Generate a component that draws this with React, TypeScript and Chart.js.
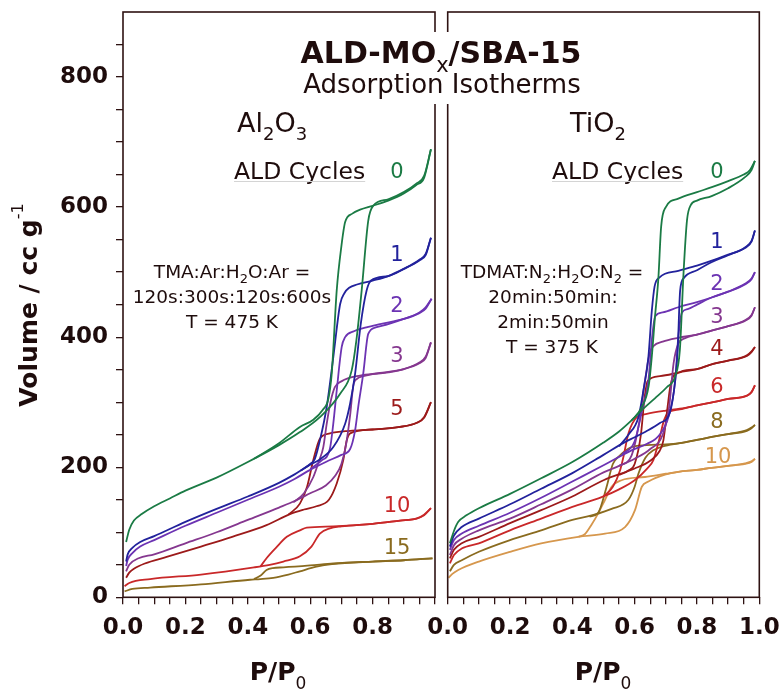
import React, { useEffect, useRef } from 'react';
import { Chart, registerables } from 'chart.js';

Chart.register(...registerables);

type Pt = [number, number];

// ---------- Al2O3 panel (P/P0, Volume cc/g) ----------
const al0Ads: Pt[] = [[0.01,85],[0.02,104],[0.035,118],[0.06,128],[0.1,140],[0.15,152],[0.2,164],[0.3,184],[0.4,208],[0.5,234],[0.567,254],[0.631,277],[0.696,313],[0.733,349],[0.748,395],[0.765,472],[0.786,579],[0.802,602],[0.85,612],[0.9,623],[0.94,636],[0.965,648],[0.987,689]];
const al0Des: Pt[] = [[0.42,213],[0.5,237],[0.567,262],[0.61,273],[0.64,288],[0.658,305],[0.669,344],[0.685,472],[0.7,540],[0.712,577],[0.735,590],[0.76,596],[0.8,602],[0.85,610],[0.9,621],[0.94,634],[0.965,645],[0.987,689]];
const al1Ads: Pt[] = [[0.01,55],[0.015,66],[0.03,76],[0.055,85],[0.1,94],[0.2,116],[0.3,136],[0.4,155],[0.5,176],[0.55,189],[0.6,204],[0.631,212],[0.674,231],[0.712,267],[0.728,298],[0.744,344],[0.762,420],[0.781,472],[0.795,487],[0.85,494],[0.9,505],[0.95,519],[0.97,528],[0.987,553]];
const al1Des: Pt[] = [[0.57,195],[0.6,205],[0.615,213],[0.631,241],[0.653,293],[0.674,369],[0.696,451],[0.71,468],[0.725,476],[0.75,481],[0.8,487],[0.85,494],[0.9,505],[0.95,518],[0.97,526],[0.987,553]];
const al2Ads: Pt[] = [[0.01,48],[0.015,58],[0.03,68],[0.055,78],[0.1,88],[0.2,110],[0.3,130],[0.4,150],[0.5,170],[0.55,182],[0.6,196],[0.65,208],[0.7,219],[0.728,228],[0.744,257],[0.754,293],[0.77,344],[0.786,405],[0.81,415],[0.85,420],[0.9,428],[0.95,438],[0.97,446],[0.989,459]];
const al2Des: Pt[] = [[0.6,197],[0.635,210],[0.663,228],[0.674,267],[0.685,318],[0.701,385],[0.712,400],[0.74,409],[0.78,415],[0.824,420],[0.9,428],[0.95,437],[0.97,444],[0.989,459]];
const al3Ads: Pt[] = [[0.01,40],[0.02,50],[0.05,60],[0.1,66],[0.2,83],[0.3,100],[0.4,119],[0.5,138],[0.55,148],[0.6,160],[0.65,172],[0.68,187],[0.7,205],[0.715,235],[0.728,280],[0.738,325],[0.75,336],[0.77,340],[0.8,343],[0.85,346],[0.9,351],[0.95,361],[0.97,370],[0.987,392]];
const al3Des: Pt[] = [[0.546,146],[0.58,160],[0.61,185],[0.63,212],[0.642,231],[0.653,267],[0.665,300],[0.679,323],[0.7,332],[0.76,341],[0.824,345],[0.9,351],[0.95,360],[0.97,368],[0.987,392]];
const al5Ads: Pt[] = [[0.01,30],[0.02,38],[0.035,44],[0.07,52],[0.14,62],[0.25,78],[0.35,93],[0.46,111],[0.535,128],[0.58,135],[0.62,140],[0.66,150],[0.685,175],[0.706,211],[0.717,241],[0.728,252],[0.8,258],[0.888,262],[0.94,268],[0.965,277],[0.987,300]];
const al5Des: Pt[] = [[0.53,127],[0.567,144],[0.59,170],[0.61,211],[0.631,244],[0.663,252],[0.728,256],[0.8,258],[0.888,262],[0.94,268],[0.965,276],[0.987,300]];
const al10Ads: Pt[] = [[0.005,17],[0.02,22],[0.087,28],[0.25,35],[0.42,46],[0.47,50],[0.514,55],[0.567,63],[0.604,78],[0.631,98],[0.663,106],[0.7,109],[0.8,113],[0.888,118],[0.94,121],[0.965,127],[0.987,137]];
const al10Des: Pt[] = [[0.44,47],[0.46,60],[0.49,76],[0.525,93],[0.567,103],[0.589,107],[0.674,109],[0.8,113],[0.888,118],[0.94,121],[0.965,126],[0.987,137]];
const al15Ads: Pt[] = [[0.005,9],[0.03,13],[0.087,15],[0.25,20],[0.407,27],[0.44,28],[0.482,30],[0.53,35],[0.567,40],[0.62,47],[0.67,51],[0.8,55],[0.9,57],[0.992,60]];
const al15Des: Pt[] = [[0.42,28],[0.44,33],[0.46,42],[0.48,45],[0.514,46],[0.6,49],[0.674,52],[0.8,55],[0.9,57],[0.992,60]];

// ---------- TiO2 panel ----------
const ti0Ads: Pt[] = [[0.007,83],[0.02,102],[0.034,116],[0.06,126],[0.1,137],[0.2,159],[0.3,183],[0.4,208],[0.5,238],[0.55,255],[0.59,272],[0.628,290],[0.665,306],[0.703,323],[0.73,340],[0.745,380],[0.757,500],[0.768,580],[0.78,603],[0.8,610],[0.847,617],[0.9,629],[0.954,646],[0.975,657],[0.986,671]];
const ti0Des: Pt[] = [[0.59,272],[0.62,290],[0.645,325],[0.655,370],[0.665,430],[0.676,490],[0.685,570],[0.7,600],[0.74,613],[0.8,623],[0.85,631],[0.9,640],[0.95,650],[0.97,657],[0.986,671]];
const ti1Ads: Pt[] = [[0.007,78],[0.02,95],[0.045,108],[0.1,121],[0.2,143],[0.3,167],[0.4,191],[0.5,219],[0.57,239],[0.6,246],[0.64,256],[0.681,268],[0.713,284],[0.73,333],[0.738,380],[0.746,472],[0.758,491],[0.8,503],[0.85,516],[0.9,526],[0.954,538],[0.975,548],[0.986,564]];
const ti1Des: Pt[] = [[0.55,232],[0.58,250],[0.612,277],[0.628,318],[0.644,369],[0.655,440],[0.664,478],[0.68,492],[0.74,502],[0.8,510],[0.85,518],[0.9,527],[0.954,537],[0.975,547],[0.986,564]];
const ti2Ads: Pt[] = [[0.007,73],[0.02,88],[0.045,98],[0.1,110],[0.2,130],[0.3,153],[0.4,178],[0.5,203],[0.59,226],[0.64,236],[0.68,250],[0.71,280],[0.73,333],[0.74,400],[0.752,438],[0.77,443],[0.8,450],[0.847,461],[0.9,470],[0.954,482],[0.975,490],[0.986,500]];
const ti2Des: Pt[] = [[0.56,220],[0.6,240],[0.625,290],[0.644,333],[0.656,400],[0.666,432],[0.69,438],[0.74,446],[0.8,454],[0.847,461],[0.9,470],[0.954,481],[0.975,489],[0.986,500]];
const ti3Ads: Pt[] = [[0.007,65],[0.02,80],[0.045,90],[0.1,103],[0.2,121],[0.3,143],[0.4,166],[0.5,192],[0.55,202],[0.6,213],[0.65,228],[0.69,250],[0.71,290],[0.725,360],[0.74,390],[0.76,398],[0.8,404],[0.847,410],[0.9,417],[0.954,426],[0.975,434],[0.986,446]];
const ti3Des: Pt[] = [[0.55,202],[0.59,218],[0.615,270],[0.633,333],[0.648,375],[0.66,386],[0.69,393],[0.74,399],[0.8,404],[0.847,410],[0.9,417],[0.954,425],[0.975,433],[0.986,446]];
const ti4Ads: Pt[] = [[0.007,60],[0.02,73],[0.045,83],[0.1,93],[0.2,114],[0.3,134],[0.4,155],[0.5,180],[0.6,198],[0.65,210],[0.68,225],[0.692,241],[0.705,290],[0.714,323],[0.726,341],[0.8,351],[0.852,359],[0.9,364],[0.96,372],[0.975,378],[0.986,385]];
const ti4Des: Pt[] = [[0.55,188],[0.58,195],[0.6,205],[0.62,250],[0.632,308],[0.642,333],[0.681,340],[0.745,346],[0.8,351],[0.852,359],[0.9,364],[0.96,371],[0.975,377],[0.986,385]];
const ti6Ads: Pt[] = [[0.007,52],[0.02,65],[0.045,75],[0.1,83],[0.2,103],[0.3,121],[0.4,139],[0.494,154],[0.55,166],[0.6,180],[0.64,198],[0.66,211],[0.68,245],[0.694,272],[0.706,283],[0.745,289],[0.8,295],[0.852,300],[0.9,305],[0.96,310],[0.975,316],[0.986,326]];
const ti6Des: Pt[] = [[0.5,155],[0.53,170],[0.553,195],[0.564,216],[0.58,252],[0.607,277],[0.639,282],[0.7,287],[0.745,290],[0.8,295],[0.852,300],[0.9,305],[0.96,310],[0.975,315],[0.986,326]];
const ti8Ads: Pt[] = [[0.007,40],[0.02,50],[0.045,57],[0.1,70],[0.2,88],[0.3,103],[0.4,119],[0.462,126],[0.526,136],[0.58,150],[0.6,170],[0.612,190],[0.635,215],[0.66,226],[0.69,232],[0.745,237],[0.8,242],[0.852,247],[0.9,251],[0.96,257],[0.975,261],[0.986,265]];
const ti8Des: Pt[] = [[0.455,124],[0.483,130],[0.51,170],[0.53,205],[0.548,216],[0.585,230],[0.639,234],[0.7,235],[0.745,237],[0.8,242],[0.852,247],[0.9,251],[0.96,256],[0.975,260],[0.986,265]];
const ti10Ads: Pt[] = [[0.003,30],[0.015,36],[0.034,42],[0.1,55],[0.2,70],[0.3,83],[0.419,93],[0.505,98],[0.569,108],[0.601,134],[0.623,170],[0.644,178],[0.7,189],[0.74,193],[0.8,196],[0.847,199],[0.9,202],[0.954,206],[0.975,209],[0.986,213]];
const ti10Des: Pt[] = [[0.42,93],[0.44,97],[0.462,112],[0.483,129],[0.505,150],[0.526,170],[0.558,180],[0.633,185],[0.7,190],[0.74,193],[0.8,196],[0.847,199],[0.9,202],[0.954,205],[0.975,208],[0.986,213]];

const AL_CYCLES = ['0', '1', '2', '3', '5', '10', '15'];
const TI_CYCLES = ['0', '1', '2', '3', '4', '6', '8', '10'];
const X_TICK_LABELS = ['0.0', '0.2', '0.4', '0.6', '0.8', '1.0'];
const Y_TICK_LABELS = ['0', '200', '400', '600', '800'];

// ---------- styles ----------
const FONT = '"DejaVu Sans", sans-serif';
const AXIS = '#2e1212';
const TEXT = '#1e0c0c';
const C = {
  green: '#1b7b45', blue: '#22229c', purple: '#6c33b3', magenta: '#85378f',
  dark: '#9c1a1a', red: '#c92829', olive: '#8a6b1f', orange: '#d6974d',
};

const AL_COLORS = [C.green, C.blue, C.purple, C.magenta, C.dark, C.red, C.olive];
const TI_COLORS = [C.green, C.blue, C.purple, C.magenta, C.dark, C.red, C.olive, C.orange];
const AL_BRANCHES: Pt[][][] = [[al0Ads, al0Des], [al1Ads, al1Des], [al2Ads, al2Des], [al3Ads, al3Des], [al5Ads, al5Des], [al10Ads, al10Des], [al15Ads, al15Des]];
const TI_BRANCHES: Pt[][][] = [[ti0Ads, ti0Des], [ti1Ads, ti1Des], [ti2Ads, ti2Des], [ti3Ads, ti3Des], [ti4Ads, ti4Des], [ti6Ads, ti6Des], [ti8Ads, ti8Des], [ti10Ads, ti10Des]];

// label placement (layout only)
const AL_LABEL_POS: Pt[] = [[397, 178], [397, 261], [397, 312], [397, 362], [397, 415], [397, 512], [397, 554]];
const TI_LABEL_POS: Pt[] = [[717, 178], [717, 248], [717, 290], [717, 323], [717, 355], [717, 393], [717, 428], [718, 463]];

const W = 782, H = 689;
const TOP = 12, BOTTOM_H = 91.7;

type Seg = { t: string; size: number; weight?: string; dy?: number; color?: string };
const f = (size: number, weight = 'normal') => `${weight} ${size}px ${FONT}`;

function drawRich(ctx: CanvasRenderingContext2D, x: number, y: number, segs: Seg[], align: 'left' | 'center' | 'right') {
  const widths = segs.map(s => { ctx.font = f(s.size, s.weight); return ctx.measureText(s.t).width; });
  const total = widths.reduce((a, b) => a + b, 0);
  let cx = align === 'center' ? x - total / 2 : align === 'right' ? x - total : x;
  ctx.textAlign = 'left';
  ctx.textBaseline = 'alphabetic';
  segs.forEach((s, i) => {
    ctx.font = f(s.size, s.weight);
    ctx.fillStyle = s.color || TEXT;
    ctx.fillText(s.t, cx, y + (s.dy || 0));
    cx += widths[i];
  });
  return total;
}

function datasetsFor(cycles: string[], branches: Pt[][][], colors: string[]) {
  const out: any[] = [];
  cycles.forEach((c, i) => {
    branches[i].forEach((pts, j) => {
      out.push({
        label: `${c} ${j ? 'desorption' : 'adsorption'}`,
        data: pts.map(([x, y]) => ({ x, y })),
        borderColor: colors[i],
        borderWidth: 1.8,
        pointRadius: 0,
        fill: false,
        cubicInterpolationMode: 'monotone',
      });
    });
  });
  return out;
}

const framePlugin = {
  id: 'frame',
  afterDraw(chart: any) {
    const { ctx, chartArea: a } = chart;
    ctx.save();
    ctx.strokeStyle = AXIS;
    ctx.lineWidth = 1.6;
    ctx.strokeRect(a.left, a.top, a.right - a.left, a.bottom - a.top);
    ctx.restore();
  },
};

const textPlugin = {
  id: 'texts',
  afterDraw(chart: any) {
    const ctx: CanvasRenderingContext2D = chart.ctx;
    ctx.save();
    // title background
    ctx.fillStyle = '#ffffff';
    ctx.fillRect(297, 32, 290, 72);
    drawRich(ctx, 441, 63, [
      { t: 'ALD-MO', size: 30, weight: 'bold' },
      { t: 'x', size: 21, dy: 9 },
      { t: '/SBA-15', size: 30, weight: 'bold' },
    ], 'center');
    drawRich(ctx, 442, 93, [{ t: 'Adsorption Isotherms', size: 26 }], 'center');

    drawRich(ctx, 237, 132, [
      { t: 'Al', size: 27 }, { t: '2', size: 18, dy: 8 }, { t: 'O', size: 27 }, { t: '3', size: 18, dy: 8 },
    ], 'left');
    drawRich(ctx, 570, 132, [{ t: 'TiO', size: 27 }, { t: '2', size: 18, dy: 8 }], 'left');

    const w1 = drawRich(ctx, 234, 179, [{ t: 'ALD Cycles', size: 23.5 }], 'left');
    const w2 = drawRich(ctx, 552, 179, [{ t: 'ALD Cycles', size: 23.5 }], 'left');
    ctx.strokeStyle = '#d4d4d4';
    ctx.lineWidth = 1;
    ctx.beginPath();
    ctx.moveTo(234, 181.5); ctx.lineTo(234 + w1, 181.5);
    ctx.moveTo(552, 181.5); ctx.lineTo(552 + w2, 181.5);
    ctx.stroke();

    const s = 18.5, sub = 13, d = 5;
    drawRich(ctx, 232, 278, [
      { t: 'TMA:Ar:H', size: s }, { t: '2', size: sub, dy: d }, { t: 'O:Ar =', size: s },
    ], 'center');
    drawRich(ctx, 232, 303, [{ t: '120s:300s:120s:600s', size: s }], 'center');
    drawRich(ctx, 232, 328, [{ t: 'T = 475 K', size: s }], 'center');

    drawRich(ctx, 552, 278, [
      { t: 'TDMAT:N', size: s }, { t: '2', size: sub, dy: d }, { t: ':H', size: s }, { t: '2', size: sub, dy: d },
      { t: 'O:N', size: s }, { t: '2', size: sub, dy: d }, { t: ' =', size: s },
    ], 'center');
    drawRich(ctx, 553, 303, [{ t: '20min:50min:', size: s }], 'center');
    drawRich(ctx, 553, 328, [{ t: '2min:50min', size: s }], 'center');
    drawRich(ctx, 552, 353, [{ t: 'T = 375 K', size: s }], 'center');

    AL_CYCLES.forEach((c, i) => {
      drawRich(ctx, AL_LABEL_POS[i][0], AL_LABEL_POS[i][1], [{ t: c, size: 21, color: AL_COLORS[i] }], 'center');
    });
    TI_CYCLES.forEach((c, i) => {
      drawRich(ctx, TI_LABEL_POS[i][0], TI_LABEL_POS[i][1], [{ t: c, size: 21, color: TI_COLORS[i] }], 'center');
    });

    // axis titles
    drawRich(ctx, 278, 680, [{ t: 'P/P', size: 25, weight: 'bold' }, { t: '0', size: 17, dy: 9 }], 'center');
    drawRich(ctx, 603, 680, [{ t: 'P/P', size: 25, weight: 'bold' }, { t: '0', size: 17, dy: 9 }], 'center');
    ctx.translate(37, 305);
    ctx.rotate(-Math.PI / 2);
    drawRich(ctx, 0, 0, [{ t: 'Volume / cc g', size: 25, weight: 'bold' }, { t: '-1', size: 16, dy: -14 }], 'center');
    ctx.restore();
  },
};

function xLabel(value: number, showLast: boolean) {
  const v = Math.round(value * 100);
  if (v % 20 !== 0) return '';
  const idx = v / 20;
  if (!showLast && idx === 5) return '';
  return X_TICK_LABELS[idx];
}

function yLabel(value: number) {
  const v = Math.round(value);
  if (v % 200 !== 0) return '';
  return Y_TICK_LABELS[v / 200] ?? '';
}

function zeroPad(sc: any) {
  sc.paddingTop = 0;
  sc.paddingBottom = 0;
  sc.paddingLeft = 0;
  sc.paddingRight = 0;
}

function makeOptions(left: boolean): any {
  const tickFont = { family: FONT, size: 23, weight: 'bold' };
  return {
    animation: false,
    responsive: false,
    events: [],
    layout: {
      padding: left
        ? { left: 0, right: W - 435, top: TOP, bottom: 0 }
        : { left: 447.7, right: W - 759.3, top: TOP, bottom: 0 },
    },
    plugins: { legend: { display: false }, tooltip: { enabled: false }, title: { display: false } },
    scales: {
      x: {
        type: 'linear',
        min: 0,
        max: 1,
        afterFit: (sc: any) => { sc.height = BOTTOM_H; zeroPad(sc); },
        ticks: {
          stepSize: 0.05,
          autoSkip: false,
          maxRotation: 0,
          minRotation: 0,
          padding: 10,
          color: TEXT,
          font: tickFont,
          callback: (v: number) => xLabel(v, !left),
        },
        grid: { drawOnChartArea: false, drawTicks: true, tickLength: 7, color: AXIS, lineWidth: 1.3 },
        border: { display: false },
      },
      y: {
        type: 'linear',
        display: left,
        min: 0,
        max: 900,
        afterFit: (sc: any) => { sc.width = left ? 123 : 0; zeroPad(sc); },
        ticks: {
          stepSize: 50,
          autoSkip: false,
          padding: 8,
          color: TEXT,
          font: tickFont,
          callback: (v: number) => yLabel(v),
        },
        grid: {
          drawOnChartArea: false, drawTicks: true, tickLength: 7, lineWidth: 1.3,
          color: (c: any) => (c.tick && c.tick.value >= 900 ? 'rgba(0,0,0,0)' : AXIS),
        },
        border: { display: false },
      },
    },
  };
}

export default function App() {
  const leftRef = useRef<HTMLCanvasElement>(null);
  const rightRef = useRef<HTMLCanvasElement>(null);

  useEffect(() => {
    Chart.defaults.font.family = FONT;
    const left = new Chart(leftRef.current!, {
      type: 'line',
      data: { datasets: datasetsFor(AL_CYCLES, AL_BRANCHES, AL_COLORS) },
      options: makeOptions(true),
      plugins: [framePlugin],
    } as any);
    const right = new Chart(rightRef.current!, {
      type: 'line',
      data: { datasets: datasetsFor(TI_CYCLES, TI_BRANCHES, TI_COLORS) },
      options: makeOptions(false),
      plugins: [framePlugin, textPlugin],
    } as any);
    return () => { left.destroy(); right.destroy(); };
  }, []);

  return (
    <div style={{ position: 'fixed', left: 0, top: 0, width: W, height: H, background: '#fff' }}>
      <canvas ref={leftRef} width={W} height={H} style={{ position: 'absolute', left: 0, top: 0 }} />
      <canvas ref={rightRef} width={W} height={H} style={{ position: 'absolute', left: 0, top: 0 }} />
    </div>
  );
}
